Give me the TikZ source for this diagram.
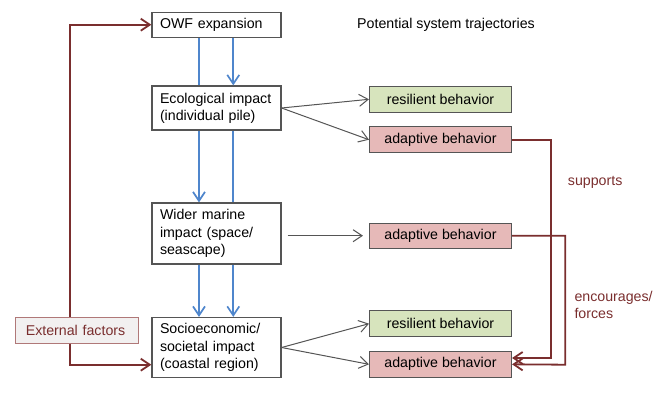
\documentclass[tikz,border=0pt]{standalone}
\usepackage{fontspec}
\setmainfont{Liberation Sans}
\usetikzlibrary{arrows.meta,calc}
\pgfdeclarelayer{bg}
\pgfsetlayers{bg,main}
\definecolor{boxline}{HTML}{555555}
\definecolor{bluearr}{HTML}{4F86CC}
\definecolor{brownarr}{HTML}{7A2E2E}
\definecolor{greenfill}{HTML}{D7E4BD}
\definecolor{redfill}{HTML}{E6B9B8}
\definecolor{extfill}{HTML}{F2F0F0}
\definecolor{extline}{HTML}{B07878}
\definecolor{graylink}{HTML}{555555}
\begin{document}
\begin{tikzpicture}[x=1pt,y=-1pt,
  every node/.style={font=\fontsize{14.2}{17.3}\selectfont},
  mainbox/.style={draw=boxline,line width=1.2pt,fill=white,inner xsep=8pt,inner ysep=0pt,
    text width=113pt,align=left,minimum width=129pt},
  behbox/.style={draw=boxline,line width=1.1pt,minimum width=142pt,minimum height=26pt,inner sep=0pt},
  resbox/.style={behbox,fill=greenfill},
  adabox/.style={behbox,fill=redfill},
  tipb/.style={-{Straight Barb[length=9pt,width=12pt]}},
  bluelink/.style={tipb,draw=bluearr,line width=1.7pt},
  graylinkst/.style={tipb,draw=graylink,line width=1pt},
  brownlink/.style={tipb,draw=brownarr,line width=1.8pt},
  lbl/.style={text=brownarr,align=left,anchor=west,inner sep=0pt}
]
\useasboundingbox (0,0) rectangle (662,394);

% main column boxes
\node[mainbox,minimum height=25pt] (owf) at (216.5,24.7) {OWF expansion};
\node[mainbox,minimum height=44pt] (eco) at (216.5,108) {Ecological impact\\(individual pile)};
\node[mainbox,minimum height=61pt] (wider) at (216.5,233.5) {Wider marine\\impact (space/\\seascape)};
\node[mainbox,minimum height=60pt] (socio) at (216.5,347.5) {Socioeconomic/\\societal impact\\(coastal region)};

% blue links passing behind boxes
\begin{pgfonlayer}{bg}
\draw[bluelink] ([xshift=-17.5pt]owf.south) -- ([xshift=-17.5pt]wider.north);
\draw[bluelink] ([xshift=16.8pt]eco.south) -- ([xshift=16.8pt]socio.north);
\end{pgfonlayer}
\draw[bluelink] ([xshift=16.8pt]owf.south) -- ([xshift=16.8pt]eco.north);
\draw[bluelink] ([xshift=-17.5pt]wider.south) -- ([xshift=-17.5pt]socio.north);

% external factors
\node[draw=extline,line width=1.1pt,fill=extfill,text=brownarr,minimum width=123pt,minimum height=26pt,
  inner xsep=10pt,text width=103pt,align=left,inner ysep=0pt] (ext) at (77.3,330.3) {External factors};
\draw[brownlink] ([xshift=-7.6pt]ext.north) |- (owf.west);
\draw[brownlink] ([xshift=-7.6pt]ext.south) |- ([yshift=-17.2pt]socio.west);

% title
\node (title) at (446,25) {Potential system trajectories};

% behaviour boxes
\node[resbox] (res1) at (440.5,99.3) {resilient behavior};
\node[adabox] (ada1) at (440.5,139.7) {adaptive behavior};
\node[adabox,minimum height=25pt] (ada2) at (440.5,235.7) {adaptive behavior};
\node[resbox] (res2) at (440.5,323.7) {resilient behavior};
\node[adabox] (ada3) at (440.5,364.3) {adaptive behavior};

% gray links
\draw[graylinkst] (eco.east) -- (res1.west);
\draw[graylinkst] (eco.east) -- (ada1.west);
\draw[graylinkst] ([xshift=6pt]wider.east |- ada2.west) -- ([xshift=-6pt]ada2.west);
\draw[graylinkst] (socio.east) -- (res2.west);
\draw[graylinkst] (socio.east) -- (ada3.west);

% brown feedback links
\coordinate (c1) at (551,358);
\coordinate (c2) at (565.3,364.7);
\draw[brownlink] (ada1.east) -| (c1) -- ([yshift=6.3pt]ada3.east);
\draw[brownlink] (ada2.east) -| (c2) -- (ada3.east);

\node[lbl] (sup) at (567.7,182) {supports};
\node[lbl] (enc) at (574.3,305) {encourages/\\forces};
\end{tikzpicture}
\end{document}
